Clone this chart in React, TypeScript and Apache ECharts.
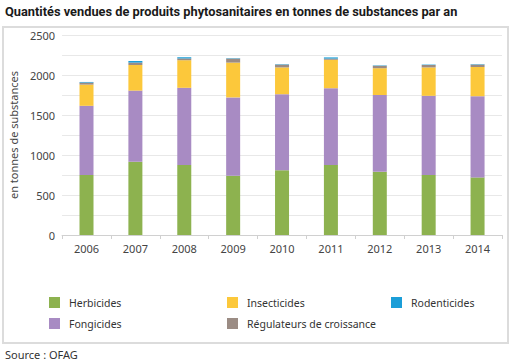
import React, { useEffect, useRef } from "react";
import * as echarts from "echarts";

const years = ["2006", "2007", "2008", "2009", "2010", "2011", "2012", "2013", "2014"];
const herbicides = [750, 915, 875, 740, 810, 875, 790, 750, 720];
const fongicides = [865, 890, 965, 980, 950, 960, 960, 990, 1015];
const insecticides = [265, 320, 345, 435, 335, 355, 335, 355, 365];
const regulateurs = [25, 30, 22, 50, 35, 15, 30, 30, 30];
const rodenticides = [8, 20, 15, 5, 5, 15, 5, 5, 5];

const FONT = "Noto Sans";
const TITLE_FONT = "Roboto";

export default function App() {
  const ref = useRef<HTMLDivElement>(null);
  useEffect(() => {
    document.body.style.margin = "0";
    const chart = echarts.init(ref.current!, null, { renderer: "svg" });
    const mk = (name: string, data: number[], color: string) => ({
      name,
      type: "bar",
      stack: "total",
      data,
      barWidth: 14,
      itemStyle: { color },
    });
    chart.setOption({
      animation: false,
      backgroundColor: "#ffffff",
      textStyle: { fontFamily: FONT },
      graphic: [
        {
          type: "rect",
          shape: { x: 3, y: 27, width: 505, height: 316 },
          style: { fill: "#ffffff", stroke: "#dcdcdc", lineWidth: 2 },
          z: -10,
        },
        {
          type: "text",
          left: 5,
          top: 5,
          style: { text: "Quantités vendues de produits phytosanitaires en tonnes de substances par an", fontFamily: TITLE_FONT, fontSize: 12.8, fontWeight: "bold", fill: "#1a1a1a" },
        },
        {
          type: "text",
          left: 5,
          top: 349,
          style: { text: "Source : OFAG", fontFamily: FONT, fontSize: 11, fill: "#333333" },
        },
      ],
      grid: { left: 57, right: 10, top: 35, bottom: 129 },
      xAxis: {
        type: "category",
        data: years,
        axisLine: { lineStyle: { color: "#d0d0d0" } },
        axisTick: { show: true, length: 4, lineStyle: { color: "#d0d0d0" } },
        axisLabel: { color: "#444444", fontSize: 11, margin: 8, fontFamily: FONT },
      },
      yAxis: {
        type: "value",
        min: 0,
        max: 2500,
        interval: 250,
        name: "en tonnes de substances",
        nameLocation: "middle",
        nameGap: 40,
        nameTextStyle: { color: "#444444", fontSize: 11, fontFamily: FONT },
        axisLine: { show: false },
        axisTick: { show: false },
        splitLine: { lineStyle: { color: "#e8e8e8" } },
        axisLabel: {
          color: "#444444",
          fontSize: 11,
          margin: 7,
          fontFamily: FONT,
          formatter: (v: number) => (v % 500 === 0 ? String(v) : ""),
        },
      },
      legend: [
        {
          left: 44, top: 292, orient: "vertical", itemWidth: 11, itemHeight: 11, itemGap: 10,
          textStyle: { color: "#333333", fontSize: 10.5, padding: [0, 0, 0, 4] },
          icon: "rect",
          data: ["Herbicides", "Fongicides"],
        },
        {
          left: 222, top: 292, orient: "vertical", itemWidth: 11, itemHeight: 11, itemGap: 10,
          textStyle: { color: "#333333", fontSize: 10.5, padding: [0, 0, 0, 4] },
          icon: "rect",
          data: ["Insecticides", "Régulateurs de croissance"],
        },
        {
          left: 386, top: 292, orient: "vertical", itemWidth: 11, itemHeight: 11, itemGap: 10,
          textStyle: { color: "#333333", fontSize: 10.5, padding: [0, 0, 0, 4] },
          icon: "rect",
          data: ["Rodenticides"],
        },
      ],
      series: [
        mk("Herbicides", herbicides, "#8db24f"),
        mk("Fongicides", fongicides, "#a88bc3"),
        mk("Insecticides", insecticides, "#fcc83b"),
        mk("Régulateurs de croissance", regulateurs, "#9b8c84"),
        mk("Rodenticides", rodenticides, "#1b9ed8"),
      ],
    });
    return () => chart.dispose();
  }, []);
  return <div ref={ref} style={{ width: 512, height: 364, position: "absolute", left: 0, top: 0 }} />;
}
